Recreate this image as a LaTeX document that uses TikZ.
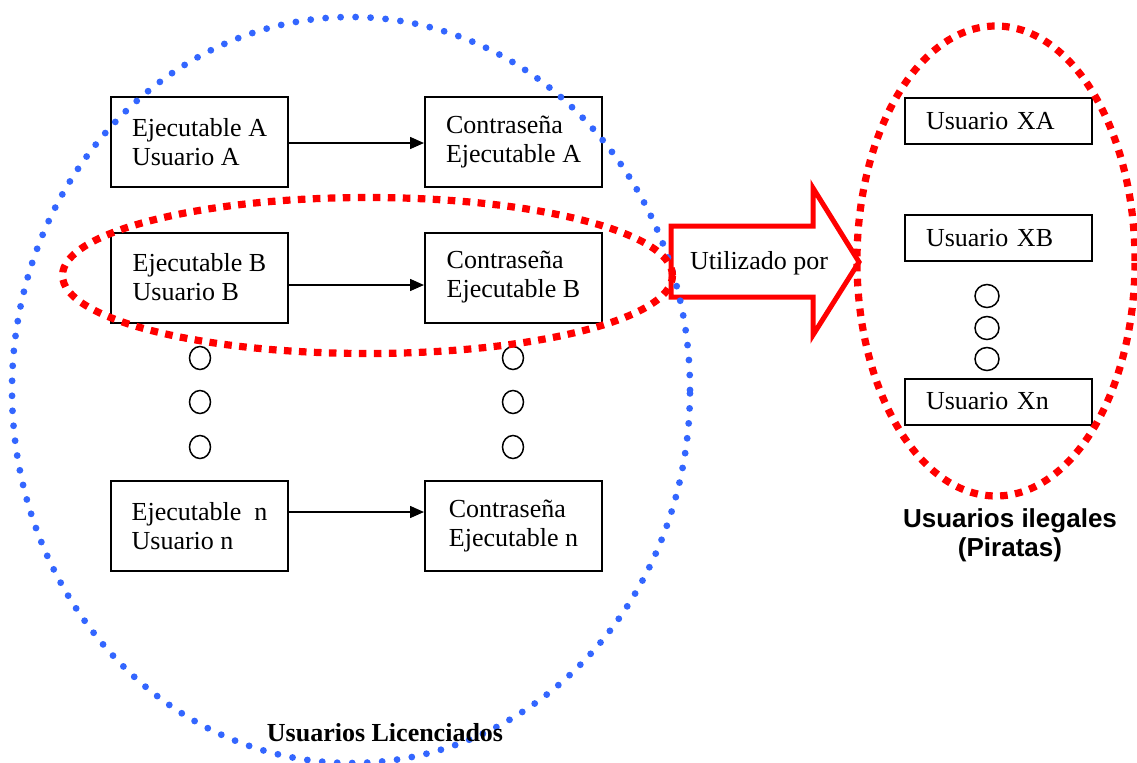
\documentclass[tikz,border=0pt]{standalone}
\usepackage{fontspec}
\setmainfont{Liberation Serif}
\newfontfamily\labelsans{Liberation Sans}
\usetikzlibrary{arrows.meta,shapes.geometric}
\definecolor{licblue}{RGB}{51,102,255}
\definecolor{pirred}{RGB}{255,0,0}
\begin{document}
\begin{tikzpicture}[x=0.5pt,y=-0.5pt,
  every node/.style={font=\fontsize{13}{14.5}\selectfont},
  pairbox/.style={draw,line width=1pt,minimum width=88.5pt,minimum height=45pt,
    inner sep=0pt,align=left},
  userbox/.style={draw,line width=1pt,minimum width=93.5pt,minimum height=23pt,
    inner xsep=10.5pt,inner ysep=0pt,text width=72.5pt,align=left},
  gap/.style={draw,line width=0.75pt,shape=ellipse,inner sep=0pt,
    minimum width=10.5pt,minimum height=11.5pt},
  gapr/.style={gap,minimum width=12pt,minimum height=11.5pt},
  link/.style={line width=0.75pt,-{Triangle[length=7pt,width=6pt]}},
  licensed/.style={shape=ellipse,draw=licblue,line width=3.4pt,line cap=round,
    dash pattern=on 0pt off 7.5pt,inner sep=0pt},
  pirate/.style={shape=ellipse,draw=pirred,line width=3.6pt,
    dash pattern=on 3.8pt off 3.7pt,inner sep=0pt},
  bigarrow/.style={draw=pirred,fill=white,line width=2.5pt,line join=miter}]
\useasboundingbox (0,0) rectangle (1137,762);

% executable / password pairs
\node[pairbox] (ea) at (199.5,142) {Ejecutable A\\Usuario A};
\node[pairbox] (ca) at (513.5,142) {Contraseña\\Ejecutable A};
\node[pairbox] (eb) at (199.5,277.5) {Ejecutable B\\Usuario B};
\node[pairbox] (cb) at (513.5,277.5) {Contraseña\\Ejecutable B};
\node[pairbox] (en) at (199.5,526) {Ejecutable~~n\\Usuario n};
\node[pairbox] (cn) at (513.5,526) {Contraseña\\Ejecutable n\hspace{3pt}};

\draw[link] (ea.east|-0,143) -- (ca.west|-0,143);
\draw[link] (eb.east|-0,285) -- (cb.west|-0,285);
\draw[link] (en.east|-0,512) -- (cn.west|-0,512);

% ellipsis marks between B and n
\node[gap] (l1) at (200,358) {};
\node[gap] (l2) at (200,402) {};
\node[gap] (l3) at (200,447) {};
\node[gap] (r1) at (513,358) {};
\node[gap] (r2) at (513,402) {};
\node[gap] (r3) at (513,447) {};

% illegal users
\node[userbox] (xa) at (998.5,121) {Usuario XA};
\node[userbox] (xb) at (998.5,238) {Usuario XB};
\node[userbox] (xn) at (998.5,401.5) {Usuario Xn};
\node[gapr] (p1) at (987,296) {};
\node[gapr] (p2) at (987,328) {};
\node[gapr] (p3) at (987,359) {};

% block arrow
\draw[bigarrow] (671,226) -- (813,226) -- (813,188) -- (859,262)
  -- (813,335) -- (813,297) -- (671,297) -- cycle;
\node (uso) at (759,263) {Utilizado por};

% grouping ellipses
\node[licensed,minimum width=339pt,minimum height=373pt] (lic) at (351,390) {};
\node[pirate,minimum width=305pt,minimum height=78pt] (grpb) at (367.5,275.5) {};
\node[pirate,minimum width=139pt,minimum height=235pt] (pir) at (996,261) {};

% captions
\node[font=\fontsize{13}{14.5}\selectfont\bfseries] (liclabel) at (385,733) {Usuarios Licenciados};
\node[font=\fontsize{13}{14.5}\selectfont\labelsans\bfseries,align=center] (pirlabel) at (1010,535)
  {Usuarios ilegales\\(Piratas)};
\end{tikzpicture}
\end{document}
